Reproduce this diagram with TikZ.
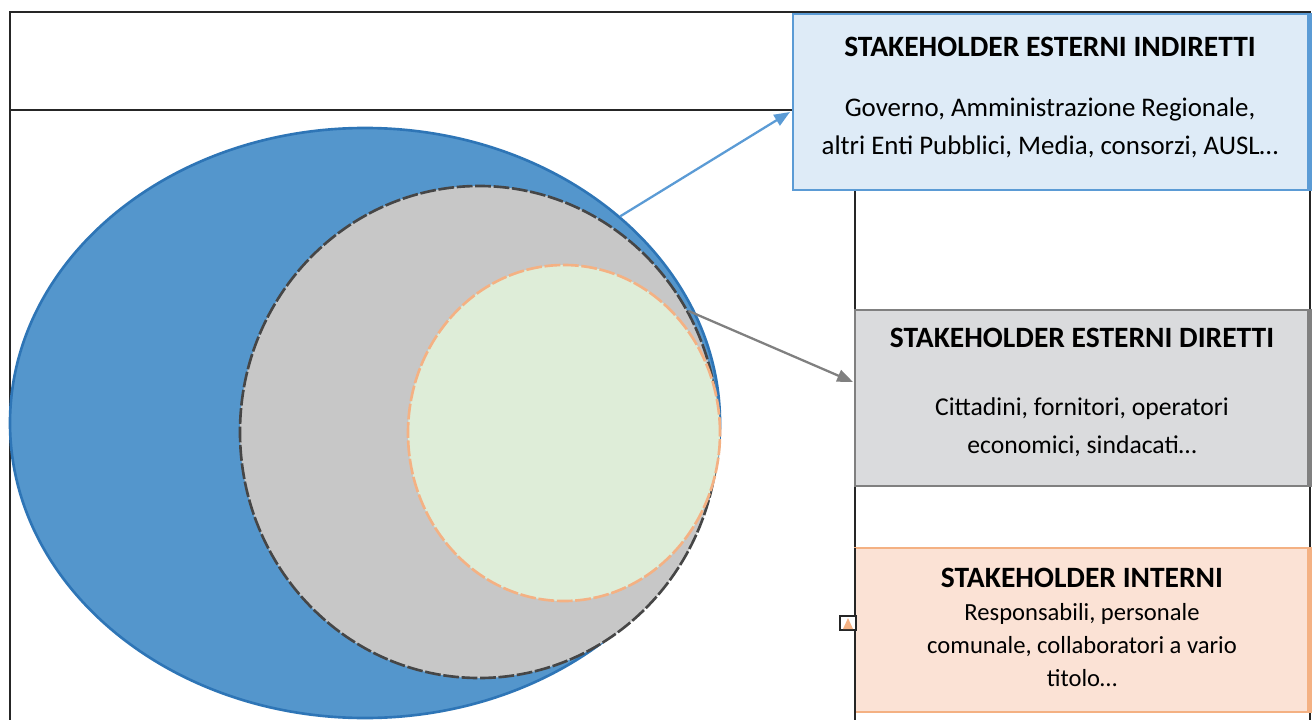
\documentclass[tikz,border=0pt]{standalone}
\usepackage{fontspec}
\setmainfont{Carlito}
\usetikzlibrary{arrows.meta, positioning, shapes.geometric}

\definecolor{outerblue}{RGB}{84,150,204}
\definecolor{outerline}{RGB}{46,117,182}
\definecolor{midgray}{RGB}{199,199,199}
\definecolor{midline}{RGB}{70,70,70}
\definecolor{innergreen}{RGB}{222,237,216}
\definecolor{boxblue}{RGB}{222,235,247}
\definecolor{lineblue}{RGB}{91,155,213}
\definecolor{boxgray}{RGB}{218,219,221}
\definecolor{linegray}{RGB}{128,128,128}
\definecolor{boxorange}{RGB}{251,226,213}
\definecolor{lineorange}{RGB}{244,177,131}
\definecolor{framecol}{RGB}{38,38,38}

\begin{document}
\begin{tikzpicture}[x=0.2mm,y=-0.2mm]

\tikzset{ring/.style = {shape=ellipse, inner sep=0pt, line width=1.5pt}}
\tikzset{card/.style = {shape=rectangle, inner sep=0pt, line width=1.5pt, minimum width=90.6mm}}
\tikzset{head/.style = {font=\fontsize{16.8}{20}\selectfont\bfseries, inner sep=0pt}}
\tikzset{body/.style = {font=\fontsize{14.6}{21.5}\selectfont, align=center, inner sep=0pt}}
\tikzset{link/.style = {-{Triangle[length=9pt,width=7pt]}, line width=1.3pt}}
\tikzset{rule/.style = {framecol, line width=1pt}}
\tikzset{rim/.style = {dash pattern=on 9pt off 1.5pt}}

\useasboundingbox (0,0) rectangle (1314,720);

% frame
\draw[rule] (10,720) -- (10,12) -- (1310,12) -- (1310,720);
\draw[rule] (10,110) -- (793,110);
\draw[rule] (855,190) -- (855,720);

% rings
\node[ring, draw=outerline, fill=outerblue, minimum width=142mm, minimum height=118mm] (outer) at (365,423) {};
\node[ring, draw=midline, fill=midgray, rim, minimum width=95.6mm, minimum height=98.4mm] (mid) at (479,432) {};
\node[ring, draw=lineorange, fill=innergreen, rim, minimum width=62.4mm, minimum height=67.2mm] (inner) at (564,433) {};

% boxes
\node[card, draw=lineblue, fill=boxblue, minimum width=103mm, minimum height=35.2mm] (indir) at (1050.5,102) {};
\draw[lineblue, line width=3pt] (indir.north east) -- (indir.south east);
\node[head] (indirHead) at (1050,47) {STAKEHOLDER ESTERNI INDIRETTI};
\node[body, font=\fontsize{15.3}{21.5}\selectfont] (indirBody) at (1050,128) {Governo, Amministrazione Regionale,\\altri Enti Pubblici, Media, consorzi, AUSL…};

\node[card, draw=linegray, fill=boxgray, minimum height=35.2mm] (dir) at (1081.5,398) {};
\draw[linegray, line width=3pt] (dir.north east) -- (dir.south east);
\node[head] (dirHead) at (1082,338) {STAKEHOLDER ESTERNI DIRETTI};
\node[body] (dirBody) at (1082,427) {Cittadini, fornitori, operatori\\economici, sindacati…};

\node[card, draw=lineorange, fill=boxorange, minimum height=32.8mm] (int) at (1081.5,630) {};
\draw[lineorange, line width=3pt] (int.north east) -- (int.south east);
\node[head] (intHead) at (1082,578) {STAKEHOLDER INTERNI};
\node[body, font=\fontsize{14}{18.7}\selectfont] (intBody) at (1082,645) {Responsabili, personale\\comunale, collaboratori a vario\\titolo…};
\draw[rule] (855,548) -- (855,720);

% tab
\node[draw=framecol, fill=white, line width=1pt, minimum width=3.2mm, minimum height=2.8mm, inner sep=0pt] (tab) at (848,623) {};
\fill[lineorange] (843,629) -- (848,618) -- (853,629) -- cycle;

% arrows
\coordinate (indirTip) at (790,112);
\coordinate (dirTip) at (853,382);
\draw[link, lineblue] (outer.39) -- (indirTip);
\draw[link, linegray] (mid.30) -- (dirTip);
\end{tikzpicture}
\end{document}
